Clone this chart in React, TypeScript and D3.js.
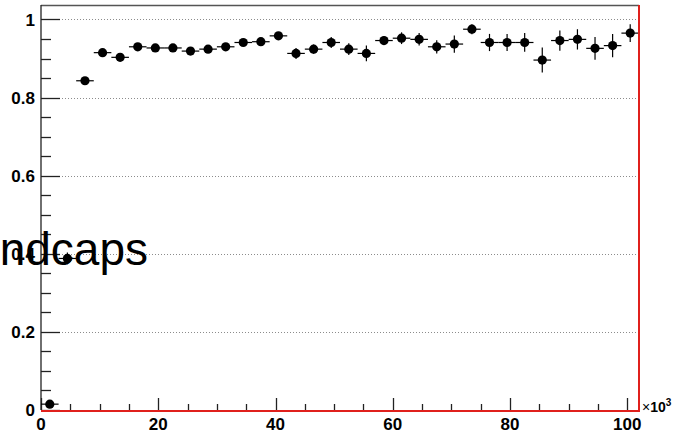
import React from "react";
import * as d3 from "d3";

// bin centres (x10^3), 3k wide bins
const binCenters = [
  1.5, 4.5, 7.5, 10.5, 13.5, 16.5, 19.5, 22.5, 25.5, 28.5, 31.5, 34.5,
  37.5, 40.5, 43.5, 46.5, 49.5, 52.5, 55.5, 58.5, 61.5, 64.5, 67.5, 70.5,
  73.5, 76.5, 79.5, 82.5, 85.5, 88.5, 91.5, 94.5, 97.5, 100.5
];
const binHalfWidth = 1.5;

const efficiency = [
  0.015, 0.388, 0.843, 0.915, 0.903, 0.93, 0.927, 0.927, 0.919, 0.924,
  0.93, 0.941, 0.943, 0.958, 0.913, 0.924, 0.941, 0.924, 0.913, 0.946,
  0.952, 0.949, 0.93, 0.937, 0.975, 0.941, 0.941, 0.941, 0.896, 0.946,
  0.949, 0.926, 0.933, 0.965
];

const efficiencyErr = [
  0.01, 0.015, 0.008, 0.007, 0.007, 0.007, 0.007, 0.007, 0.008, 0.009,
  0.009, 0.009, 0.009, 0.009, 0.014, 0.012, 0.014, 0.015, 0.02, 0.011,
  0.015, 0.016, 0.017, 0.022, 0.013, 0.022, 0.022, 0.024, 0.032, 0.026,
  0.026, 0.029, 0.03, 0.023
];

const xMajorTicks = [0, 20, 40, 60, 80, 100];
const xMinorTicks = [5, 10, 15, 25, 30, 35, 45, 50, 55, 65, 70, 75, 85, 90, 95];
const yMajorTicks = [0, 0.2, 0.4, 0.6, 0.8, 1];
const yTickLabels = ["0", "0.2", "0.4", "0.6", "0.8", "1"];
const yMinorTicks = [
  0.05, 0.1, 0.15, 0.25, 0.3, 0.35, 0.45, 0.5, 0.55, 0.65, 0.7, 0.75,
  0.85, 0.9, 0.95
];
const gridLines = [0.2, 0.4, 0.6, 0.8, 1];

const width = 675;
const height = 434;
const margin = { left: 41, right: 36, top: 5, bottom: 24 };

export default function App() {
  const x = d3
    .scaleLinear()
    .domain([0, 102])
    .range([margin.left, width - margin.right]);
  const y = d3
    .scaleLinear()
    .domain([0, 1.037])
    .range([height - margin.bottom, margin.top]);

  const x0 = x.range()[0];
  const x1 = x.range()[1];
  const y0 = y.range()[0];
  const y1 = y.range()[1];
  const font = "'Liberation Sans', Arial, Helvetica, sans-serif";

  return (
    <svg
      width={width}
      height={height}
      style={{ position: "absolute", left: 0, top: 0, background: "#fff" }}
    >
      {/* dotted grid */}
      {gridLines.map(v => (
        <line
          key={"g" + v}
          x1={x0}
          x2={x1}
          y1={Math.round(y(v)) + 0.5}
          y2={Math.round(y(v)) + 0.5}
          stroke="#8c8c8c"
          strokeWidth={1}
          strokeDasharray="1,2"
        />
      ))}

      {/* frame */}
      <line x1={x0} x2={x1} y1={y1 + 0.5} y2={y1 + 0.5} stroke="#555" strokeWidth={1.5} />
      <line x1={x0} x2={x0} y1={y1} y2={y0} stroke="#222" strokeWidth={1.3} />

      {/* y ticks */}
      {yMajorTicks.map(v => (
        <line
          key={"ym" + v}
          x1={x0}
          x2={x0 + 19}
          y1={Math.round(y(v)) + 0.5}
          y2={Math.round(y(v)) + 0.5}
          stroke="#222"
          strokeWidth={1.3}
        />
      ))}
      {yMinorTicks.map(v => (
        <line
          key={"yn" + v}
          x1={x0}
          x2={x0 + 10}
          y1={Math.round(y(v)) + 0.5}
          y2={Math.round(y(v)) + 0.5}
          stroke="#222"
          strokeWidth={1.3}
        />
      ))}
      {yMajorTicks.map((v, i) => (
        <text
          key={"yl" + v}
          x={x0 - 6}
          y={y(v)}
          dy="0.36em"
          textAnchor="end"
          fontFamily={font}
          fontWeight="bold"
          fontSize={17}
        >
          {yTickLabels[i]}
        </text>
      ))}

      {/* x ticks */}
      {xMajorTicks.map(v => (
        <line
          key={"xm" + v}
          x1={Math.round(x(v)) + 0.5}
          x2={Math.round(x(v)) + 0.5}
          y1={y0}
          y2={y0 - 12}
          stroke="#222"
          strokeWidth={1.3}
        />
      ))}
      {xMinorTicks.map(v => (
        <line
          key={"xn" + v}
          x1={Math.round(x(v)) + 0.5}
          x2={Math.round(x(v)) + 0.5}
          y1={y0}
          y2={y0 - 6}
          stroke="#222"
          strokeWidth={1.3}
        />
      ))}
      {xMajorTicks.map(v => (
        <text
          key={"xl" + v}
          x={x(v)}
          y={430}
          textAnchor="middle"
          fontFamily={font}
          fontWeight="bold"
          fontSize={17}
        >
          {v}
        </text>
      ))}
      <text x={x1 + 3} y={412} fontFamily={font} fontSize={14}>
        <tspan>×</tspan>
        <tspan fontWeight="bold">10</tspan>
        <tspan fontWeight="bold" fontSize={10} dy={-6}>3</tspan>
      </text>

      {/* error bars and markers */}
      {binCenters.map((c, i) => (
        <g key={"p" + i}>
          <line
            x1={x(c - binHalfWidth)}
            x2={x(c + binHalfWidth)}
            y1={y(efficiency[i])}
            y2={y(efficiency[i])}
            stroke="#000"
            strokeWidth={1.2}
          />
          <line
            x1={x(c)}
            x2={x(c)}
            y1={y(efficiency[i] - efficiencyErr[i])}
            y2={y(Math.min(efficiency[i] + efficiencyErr[i], 1.037))}
            stroke="#000"
            strokeWidth={1.2}
          />
          <circle cx={x(c)} cy={y(efficiency[i])} r={4.6} fill="#000" />
        </g>
      ))}

      {/* red bottom/right frame edges */}
      <line x1={x0} x2={x1 + 1} y1={y0 + 1} y2={y0 + 1} stroke="#e0201c" strokeWidth={2} />
      <line x1={x1} x2={x1} y1={y1} y2={y0 + 2} stroke="#e0201c" strokeWidth={2} />

      {/* label partly outside the canvas */}
      <text
        x={148}
        y={265}
        textAnchor="end"
        fontFamily={font}
        fontSize={46}
        fill="#000"
      >
        Endcaps
      </text>
    </svg>
  );
}
